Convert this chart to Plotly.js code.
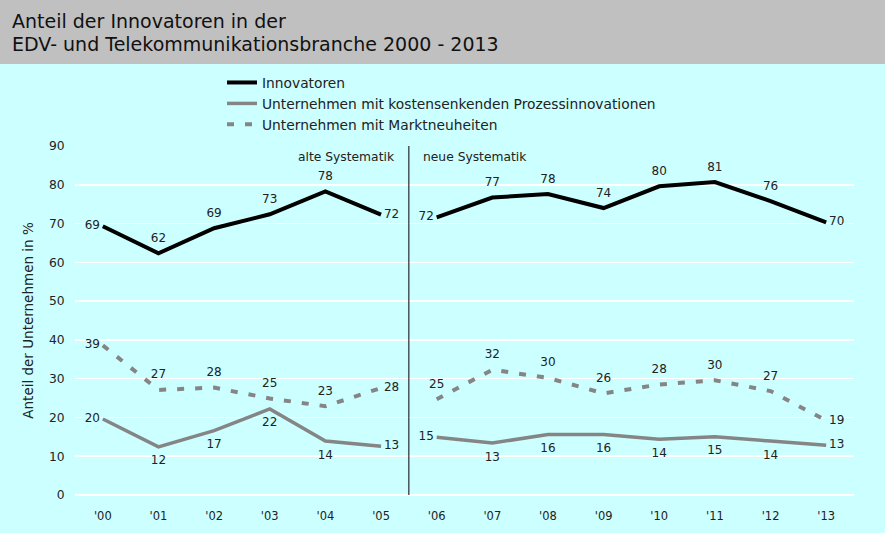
<!DOCTYPE html>
<html>
<head>
<meta charset="utf-8">
<script src="https://cdn.plot.ly/plotly-3.0.1.min.js"></script>
<style>html,body{margin:0;padding:0;background:#ccffff;}#chart{width:885px;height:533px;}</style>
</head>
<body>
<div id="chart"></div>
<script>
const years = ["'00","'01","'02","'03","'04","'05","'06","'07","'08","'09","'10","'11","'12","'13"];
const innovatoren = [69.3, 62.3, 68.8, 72.4, 78.3, 72.3, 71.6, 76.7, 77.6, 74.0, 79.6, 80.7, 75.8, 70.3];
const innoLabels = [69, 62, 69, 73, 78, 72, 72, 77, 78, 74, 80, 81, 76, 70];
const prozess = [19.6, 12.4, 16.6, 22.2, 13.9, 12.6, 14.9, 13.4, 15.6, 15.6, 14.4, 15.0, 13.9, 12.8];
const prozLabels = [20, 12, 17, 22, 14, 13, 15, 13, 16, 16, 14, 15, 14, 13];
const markt = [38.6, 27.1, 27.7, 24.9, 22.9, 27.6, 24.7, 32.3, 30.2, 26.2, 28.5, 29.6, 26.8, 19.2];
const marktLabels = [39, 27, 28, 25, 23, 28, 25, 32, 30, 26, 28, 30, 27, 19];
const posInno = ["middle left","top center","top center","top center","top center","middle right","middle left","top center","top center","top center","top center","top center","top center","middle right"];
const posProz = ["middle left","bottom center","bottom center","bottom center","bottom center","middle right","middle left","bottom center","bottom center","bottom center","bottom center","bottom center","bottom center","middle right"];
const posMarkt = ["middle left","top center","top center","top center","top center","middle right","top center","top center","top center","top center","top center","top center","top center","middle right"];
const seriesNames = ["Innovatoren","Unternehmen mit kostensenkenden Prozessinnovationen","Unternehmen mit Marktneuheiten"];
const titleLines = ["Anteil der Innovatoren in der", "EDV- und Telekommunikationsbranche 2000 - 2013"];

const W = 885, H = 533, mt = 146, mb = 38, ml = 75, mr = 31;
const ph = H - mt - mb, pw = W - ml - mr;
const font = "DejaVu Sans, Verdana, sans-serif";
const py = px => 1 + (mt - px) / ph;

function seg(name, vals, labels, pos, color, dash, width, a, b, show) {
  const p = pos.slice(a, b);
  return {
    type: 'scatter', mode: 'lines+markers+text', name: name, legendgroup: name, showlegend: show,
    x: years.slice(a, b), y: vals.slice(a, b),
    text: labels.slice(a, b).map(String),
    textposition: p,
    textfont: {family: font, size: 12, color: '#222'},
    line: {color: color, width: width, dash: dash},
    marker: {size: p.map(s => s.indexOf('middle') >= 0 ? 3 : 12), color: 'rgba(0,0,0,0)',
             line: {width: 0, color: 'rgba(0,0,0,0)'}},
    hoverinfo: 'skip', cliponaxis: false
  };
}
const data = [];
[[innovatoren, innoLabels, posInno, '#000000', 'solid', 4], [prozess, prozLabels, posProz, '#858585', 'solid', 3.5], [markt, marktLabels, posMarkt, '#858585', '7px,11px', 4]]
  .forEach((s, i) => {
    data.push(seg(seriesNames[i], s[0], s[1], s[2], s[3], s[4], s[5], 0, 6, true));
    data.push(seg(seriesNames[i], s[0], s[1], s[2], s[3], s[4], s[5], 6, 14, false));
  });

const layout = {
  width: W, height: H,
  margin: {t: mt, b: mb, l: ml, r: mr, pad: 0},
  paper_bgcolor: '#ccffff', plot_bgcolor: '#ccffff',
  font: {family: font, size: 12, color: '#222'},
  showlegend: true,
  legend: {x: (222 - ml) / pw, xanchor: 'left', y: py(67), yanchor: 'top',
           bgcolor: 'rgba(0,0,0,0)', font: {family: font, size: 13.8, color: '#222'},
           tracegroupgap: 0, itemwidth: 30, orientation: 'v'},
  xaxis: {type: 'category', categoryorder: 'array', categoryarray: years, range: [-0.5, 13.5],
          showgrid: false, zeroline: false, showline: false, ticks: 'outside', ticklen: 10,
          tickcolor: 'rgba(0,0,0,0)', tickfont: {family: font, size: 11.5, color: '#222'}, fixedrange: true},
  yaxis: {range: [0, 90], dtick: 10, showgrid: true, gridcolor: '#ffffff', gridwidth: 1.5,
          zeroline: true, zerolinecolor: '#ffffff', zerolinewidth: 1.5, showline: false,
          ticks: 'outside', ticklen: 7, tickcolor: 'rgba(0,0,0,0)',
          tickfont: {family: font, size: 12.3, color: '#222'},
          title: {text: 'Anteil der Unternehmen in %', standoff: 12, font: {family: font, size: 13.5, color: '#222'}}},
  shapes: [
    {type: 'rect', xref: 'paper', yref: 'paper', x0: -ml / pw, x1: 1 + mr / pw,
     y0: py(64), y1: py(0), fillcolor: '#c0c0c0', line: {width: 0}, layer: 'below'},
    {type: 'line', xref: 'x', yref: 'paper', x0: 5.5, x1: 5.5, y0: 0, y1: 1, line: {color: '#000', width: 1}}
  ],
  annotations: [
    {xref: 'paper', yref: 'paper', x: (10 - ml) / pw, y: py(21), text: titleLines[0], showarrow: false,
     xanchor: 'left', yanchor: 'middle', font: {family: font, size: 19, color: '#111'}},
    {xref: 'paper', yref: 'paper', x: (10 - ml) / pw, y: py(44), text: titleLines[1], showarrow: false,
     xanchor: 'left', yanchor: 'middle', font: {family: font, size: 19, color: '#111'}},
    {xref: 'x', yref: 'paper', x: 5.5, y: py(157), text: 'alte Systematik', showarrow: false,
     xanchor: 'right', yanchor: 'middle', xshift: -12, font: {family: font, size: 12.3, color: '#222'}},
    {xref: 'x', yref: 'paper', x: 5.5, y: py(157), text: 'neue Systematik', showarrow: false,
     xanchor: 'left', yanchor: 'middle', xshift: 12, font: {family: font, size: 12.3, color: '#222'}}
  ]
};
Plotly.newPlot('chart', data, layout, {displayModeBar: false, staticPlot: true});
</script>
</body>
</html>
